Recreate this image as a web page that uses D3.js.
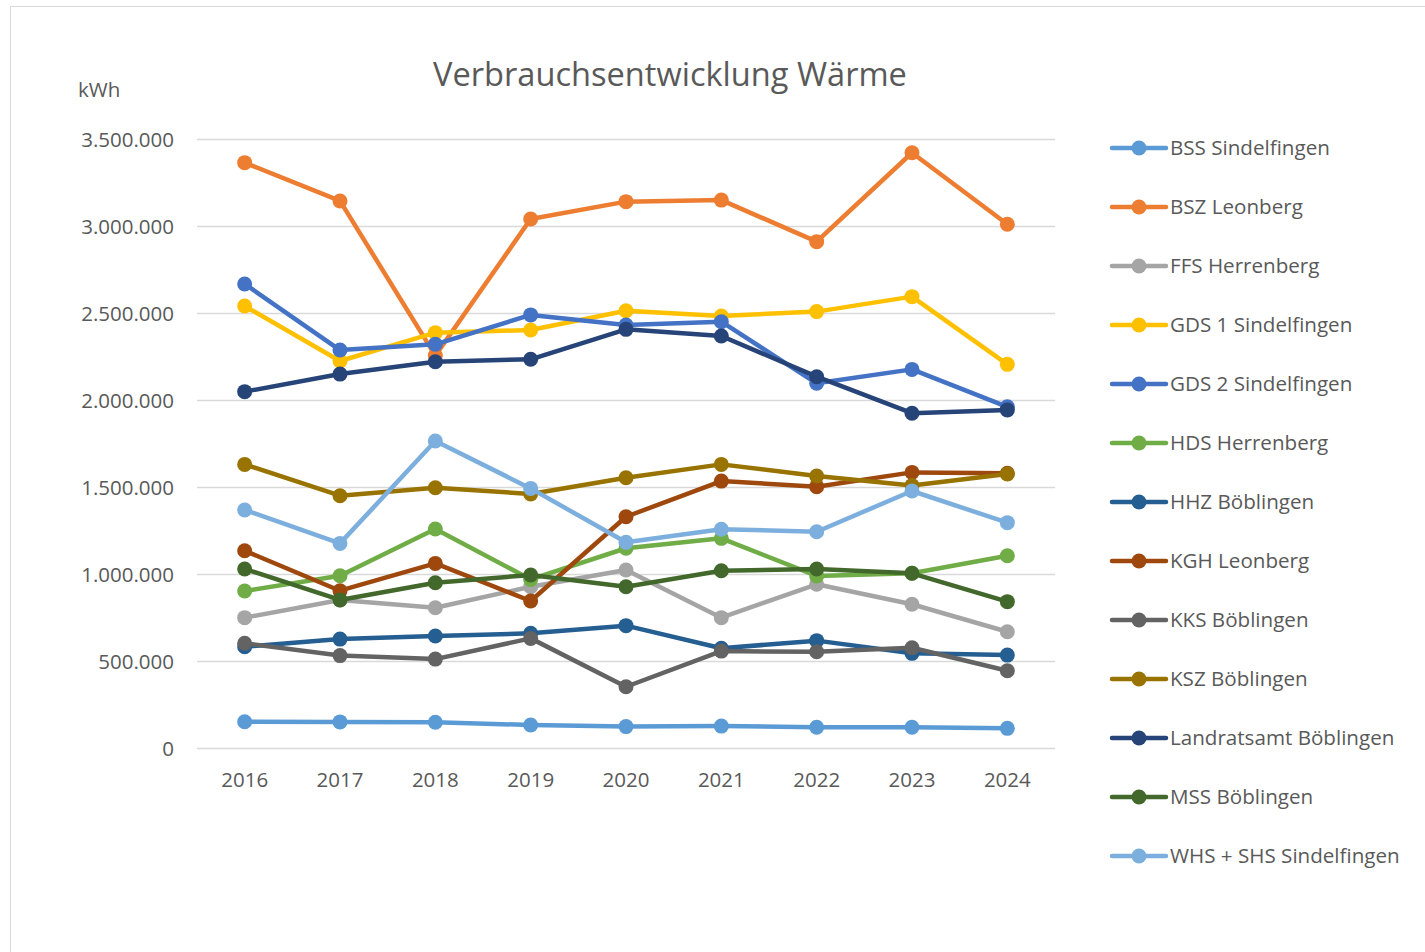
<!DOCTYPE html>
<html>
<head>
<meta charset="utf-8">
<script src="https://cdn.jsdelivr.net/npm/d3@7"></script>
<style>
  html, body { margin: 0; padding: 0; background: #fff; }
  svg { display: block; font-family: "Open Sans", "Noto Sans", sans-serif; }
  .grid line { stroke: #d9d9d9; stroke-width: 1.3; }
  .axis text { fill: #595959; font-size: 20.5px; font-family: "Open Sans", "Noto Sans", sans-serif; }
  .legend text { fill: #595959; font-size: 20.6px; }
</style>
</head>
<body>
<svg id="chart" width="1425" height="952"></svg>
<script>
(function () {
  "use strict";

  // Data (kWh)
  var years = ["2016", "2017", "2018", "2019", "2020", "2021", "2022", "2023", "2024"];
  var yTicks = [0, 500000, 1000000, 1500000, 2000000, 2500000, 3000000, 3500000];

  var seriesNames = [
    "BSS Sindelfingen", "BSZ Leonberg", "FFS Herrenberg", "GDS 1 Sindelfingen",
    "GDS 2 Sindelfingen", "HDS Herrenberg", "HHZ Böblingen", "KGH Leonberg",
    "KKS Böblingen", "KSZ Böblingen", "Landratsamt Böblingen", "MSS Böblingen",
    "WHS + SHS Sindelfingen"
  ];
  var seriesColors = [
    "#5b9bd5", "#ed7d31", "#a5a5a5", "#ffc000", "#4472c4", "#70ad47", "#255e91",
    "#9e480e", "#636363", "#997300", "#264478", "#43682b", "#7cafdd"
  ];

  var bss  = [151000, 150000, 148000, 132000, 123000, 126000, 119000, 119000, 113000];
  var bsz  = [3364000, 3144000, 2255000, 3040000, 3140000, 3149000, 2910000, 3421000, 3010000];
  var ffs  = [749000, 851000, 806000, 927000, 1023000, 749000, 941000, 826000, 668000];
  var gds1 = [2540000, 2224000, 2387000, 2402000, 2513000, 2483000, 2508000, 2594000, 2205000];
  var gds2 = [2667000, 2287000, 2320000, 2489000, 2431000, 2450000, 2096000, 2176000, 1961000];
  var hds  = [902000, 990000, 1259000, 969000, 1148000, 1205000, 989000, 1004000, 1105000];
  var hhz  = [582000, 626000, 644000, 659000, 703000, 573000, 617000, 544000, 534000];
  var kgh  = [1134000, 904000, 1061000, 845000, 1329000, 1534000, 1502000, 1584000, 1579000];
  var kks  = [602000, 531000, 511000, 630000, 352000, 557000, 553000, 576000, 444000];
  var ksz  = [1630000, 1450000, 1496000, 1460000, 1553000, 1630000, 1563000, 1508000, 1575000];
  var lra  = [2048000, 2149000, 2220000, 2234000, 2406000, 2368000, 2134000, 1924000, 1943000];
  var mss  = [1029000, 851000, 950000, 994000, 927000, 1019000, 1029000, 1004000, 841000];
  var whs  = [1368000, 1176000, 1764000, 1492000, 1182000, 1257000, 1243000, 1477000, 1295000];

  var seriesValues = [bss, bsz, ffs, gds1, gds2, hds, hhz, kgh, kks, ksz, lra, mss, whs];

  var series = seriesNames.map(function (name, i) {
    return { name: name, color: seriesColors[i], values: seriesValues[i] };
  });

  var svg = d3.select("#chart");

  // chart frame
  svg.append("rect")
      .attr("x", 10.5).attr("y", 6.5)
      .attr("width", 1440).attr("height", 980)
      .attr("fill", "none")
      .attr("stroke", "#d9d9d9")
      .attr("stroke-width", 1);

  var plot = { left: 197, right: 1055, top: 139, bottom: 748 };

  var x = d3.scaleBand()
      .domain(years)
      .range([plot.left, plot.right]);

  var y = d3.scaleLinear()
      .domain([0, 3500000])
      .range([plot.bottom, plot.top]);

  var fmt = function (v) {
    return d3.format(",")(v).replace(/,/g, ".");
  };

  // gridlines
  svg.append("g")
      .attr("class", "grid")
      .selectAll("line")
      .data(yTicks)
    .enter().append("line")
      .attr("x1", plot.left)
      .attr("x2", plot.right)
      .attr("y1", function (d) { return Math.round(y(d)) + 0.5; })
      .attr("y2", function (d) { return Math.round(y(d)) + 0.5; });

  // y axis
  var yAxis = svg.append("g")
      .attr("class", "axis")
      .attr("transform", "translate(" + (plot.left - 23) + ",0)")
      .call(d3.axisLeft(y).tickValues(yTicks).tickSize(0).tickPadding(0).tickFormat(fmt));
  yAxis.attr("font-family", null).attr("font-size", null);
  yAxis.select(".domain").remove();
  yAxis.selectAll("text").attr("dy", "0.35em");

  // x axis
  var xAxis = svg.append("g")
      .attr("class", "axis")
      .attr("transform", "translate(0," + (plot.bottom + 24) + ")")
      .call(d3.axisBottom(x).tickSize(0).tickPadding(0));
  xAxis.attr("font-family", null).attr("font-size", null);
  xAxis.select(".domain").remove();
  xAxis.selectAll("text").attr("dy", "0.35em").attr("y", 8);

  // title and unit
  svg.append("text")
      .attr("x", 670)
      .attr("y", 86)
      .attr("text-anchor", "middle")
      .style("font-size", "32.6px")
      .style("fill", "#595959")
      .text("Verbrauchsentwicklung Wärme");

  svg.append("text")
      .attr("x", 78)
      .attr("y", 97)
      .style("font-size", "20.5px")
      .style("fill", "#595959")
      .text("kWh");

  // lines
  var line = d3.line()
      .x(function (d, i) { return x(years[i]) + x.bandwidth() / 2; })
      .y(function (d) { return y(d); });

  var groups = svg.append("g")
      .selectAll("g.series")
      .data(series)
    .enter().append("g")
      .attr("class", "series");

  groups.append("path")
      .attr("d", function (s) { return line(s.values); })
      .attr("fill", "none")
      .attr("stroke", function (s) { return s.color; })
      .attr("stroke-width", 4.5)
      .attr("stroke-linejoin", "round")
      .attr("stroke-linecap", "round");

  groups.selectAll("circle")
      .data(function (s) { return s.values.map(function (v, i) { return { v: v, i: i, c: s.color }; }); })
    .enter().append("circle")
      .attr("cx", function (d) { return x(years[d.i]) + x.bandwidth() / 2; })
      .attr("cy", function (d) { return y(d.v); })
      .attr("r", 7.5)
      .attr("fill", function (d) { return d.c; });

  // legend
  var legend = svg.append("g")
      .attr("class", "legend")
      .selectAll("g")
      .data(series)
    .enter().append("g")
      .attr("transform", function (s, i) { return "translate(1112," + (148 + i * 59) + ")"; });

  legend.append("line")
      .attr("x1", 0).attr("x2", 54)
      .attr("stroke", function (s) { return s.color; })
      .attr("stroke-width", 4.5)
      .attr("stroke-linecap", "round");

  legend.append("circle")
      .attr("cx", 27)
      .attr("r", 7.5)
      .attr("fill", function (s) { return s.color; });

  legend.append("text")
      .attr("x", 58)
      .attr("dy", "0.35em")
      .text(function (s) { return s.name; });
}());
</script>
</body>
</html>
